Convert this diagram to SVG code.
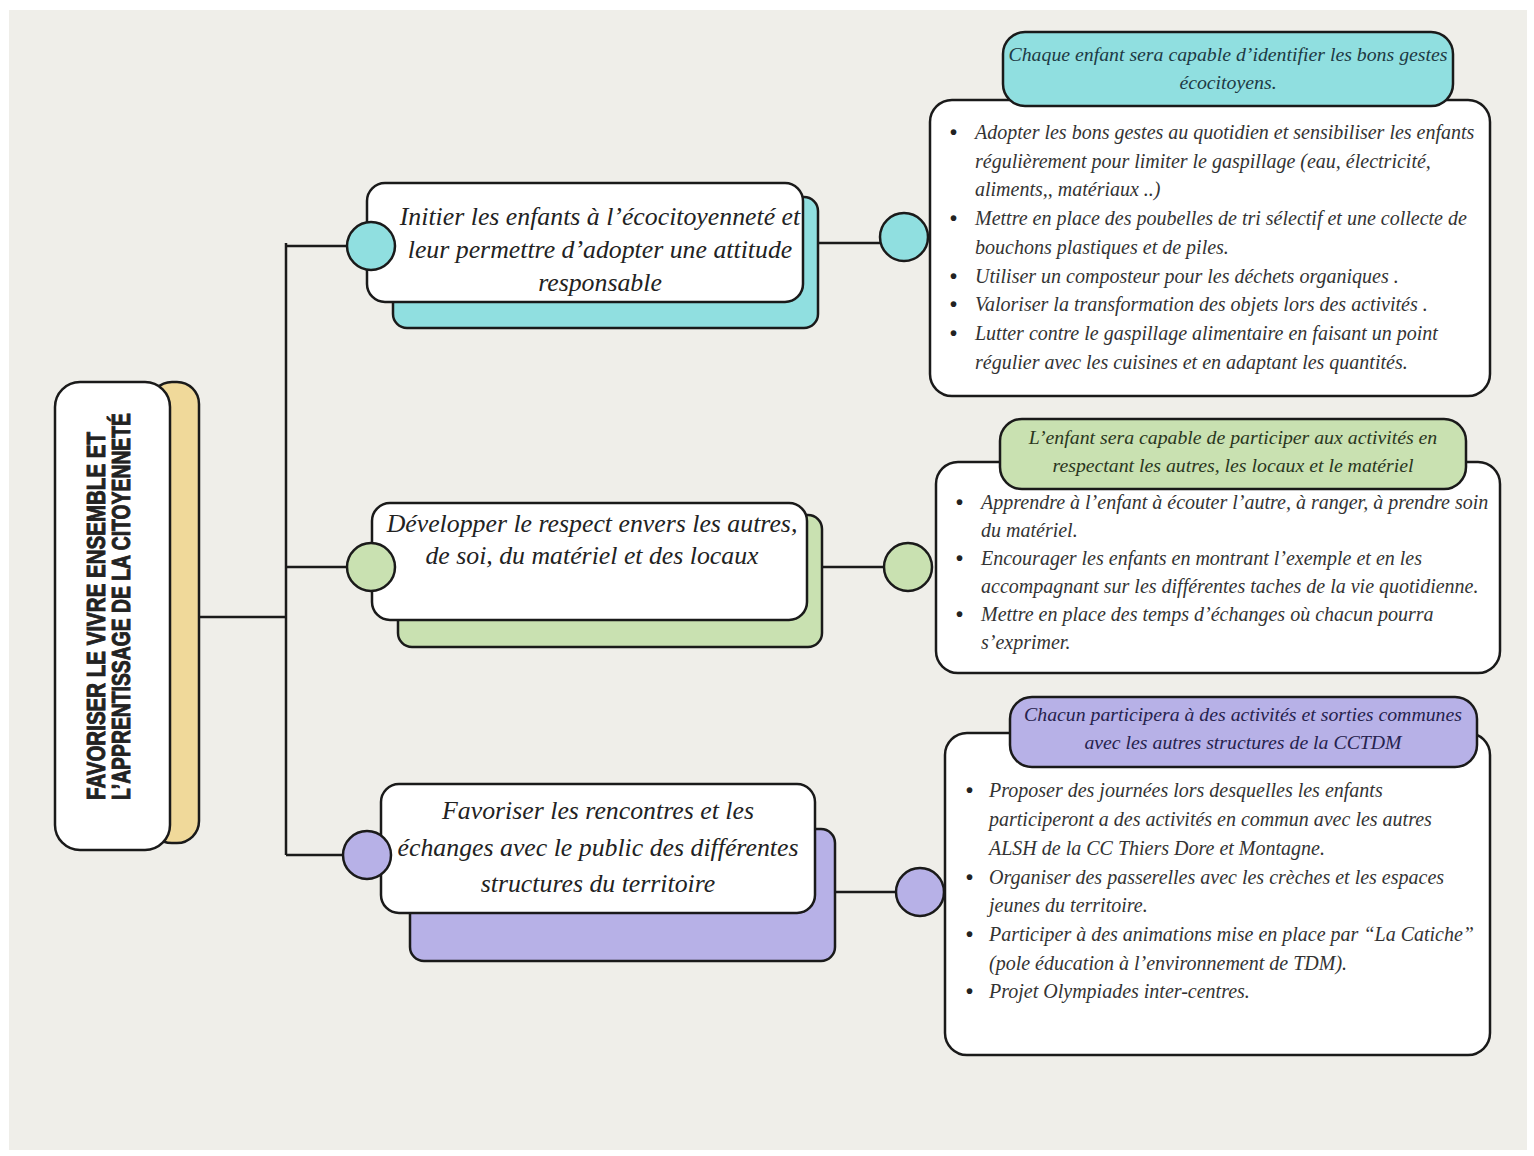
<svg xmlns="http://www.w3.org/2000/svg" width="1534" height="1156" viewBox="0 0 1534 1156">
<style>
.bg{fill:#efeee9}
.box{fill:#ffffff;stroke:#1a1a1a;stroke-width:2.5}
.sh{stroke:#1a1a1a;stroke-width:2.5}
.teal{fill:#90dfe0}
.green{fill:#c9e1b1}
.purple{fill:#b7b1e7}
.yellow{fill:#f0d99a}
.wire{fill:none;stroke:#1a1a1a;stroke-width:2.5}
.mid{font-family:"Liberation Serif",serif;font-style:italic;font-size:25.8px;fill:#222;text-anchor:middle}
.hd{font-family:"Liberation Serif",serif;font-style:italic;font-size:19.8px;text-anchor:middle}
.bl{font-family:"Liberation Serif",serif;font-style:italic;font-size:20px;fill:#333}
.dot{font-family:"Liberation Sans",Arial,sans-serif;font-weight:bold;font-size:20px;fill:#222}
.title{font-family:"Liberation Sans",Arial,sans-serif;font-weight:bold;font-size:25px;fill:#222;stroke:#222;stroke-width:0.9}
</style>
<rect x="0" y="0" width="1534" height="1156" fill="#ffffff"/>
<rect class="bg" x="9" y="10" width="1518" height="1140"/>

<g id="connectors">
<path class="wire" d="M199 617 H286 M286 243 V855 M286 246 H350 M286 567 H350 M286 855 H346 M818 243 H882 M822 567 H885 M835 892 H898"/>
</g>

<g id="main">
<rect class="yellow sh" x="150" y="382" width="49" height="461" rx="22"/>
<rect class="box" x="55" y="382" width="115" height="468" rx="25"/>
<text class="title" transform="translate(105,800) rotate(-90)" textLength="368" lengthAdjust="spacingAndGlyphs">FAVORISER LE VIVRE ENSEMBLE ET</text>
<text class="title" transform="translate(130,800) rotate(-90)" textLength="387" lengthAdjust="spacingAndGlyphs">L’APPRENTISSAGE DE LA CITOYENNETÉ</text>
</g>

<g id="obj1">
<rect class="teal sh" x="393" y="197" width="425" height="131" rx="14"/>
<rect class="box" x="367" y="183" width="436" height="119" rx="18"/>
<circle class="teal sh" cx="371" cy="246" r="24"/>
<text class="mid" x="600" y="225">Initier les enfants à l’écocitoyenneté et</text>
<text class="mid" x="600" y="258">leur permettre d’adopter une attitude</text>
<text class="mid" x="600" y="291">responsable</text>
</g>

<g id="obj2">
<rect class="green sh" x="398" y="515" width="424" height="132" rx="14"/>
<rect class="box" x="372" y="503" width="435" height="117" rx="18"/>
<circle class="green sh" cx="371" cy="567" r="24"/>
<text class="mid" x="592" y="532">Développer le respect envers les autres,</text>
<text class="mid" x="592" y="564">de soi, du matériel et des locaux</text>
</g>

<g id="obj3">
<rect class="purple sh" x="410" y="829" width="425" height="132" rx="14"/>
<rect class="box" x="381" y="784" width="434" height="129" rx="18"/>
<circle class="purple sh" cx="367" cy="855" r="24"/>
<text class="mid" x="598" y="819">Favoriser les rencontres et les</text>
<text class="mid" x="598" y="856">échanges avec le  public des différentes</text>
<text class="mid" x="598" y="892">structures du territoire</text>
</g>

<g id="dot1"><circle class="teal sh" cx="904" cy="237" r="24"/></g>
<g id="dot2"><circle class="green sh" cx="908" cy="567" r="24"/></g>
<g id="dot3"><circle class="purple sh" cx="920" cy="892" r="24"/></g>

<g id="detail1">
<rect class="box" x="930" y="100" width="560" height="296" rx="22"/>
<rect class="teal sh" x="1003" y="32" width="450" height="74" rx="22"/>
<text class="hd" x="1228" y="61" fill="#1d3a44">Chaque enfant sera capable d’identifier les bons gestes</text>
<text class="hd" x="1228" y="89" fill="#1d3a44">écocitoyens.</text>
<g class="dot">
<text x="950" y="139">•</text><text x="950" y="225">•</text><text x="950" y="283">•</text><text x="950" y="311">•</text><text x="950" y="340">•</text>
</g>
<g class="bl">
<text x="975" y="139">Adopter les bons gestes au quotidien  et sensibiliser les enfants</text>
<text x="975" y="168">régulièrement pour limiter le gaspillage (eau, électricité,</text>
<text x="975" y="196">aliments,, matériaux ..)</text>
<text x="975" y="225">Mettre en place des poubelles de tri sélectif et une collecte de</text>
<text x="975" y="254">bouchons plastiques et de piles.</text>
<text x="975" y="283">Utiliser un composteur pour les déchets organiques .</text>
<text x="975" y="311">Valoriser la transformation des objets lors des activités .</text>
<text x="975" y="340">Lutter contre le gaspillage alimentaire en faisant un point</text>
<text x="975" y="369">régulier avec les cuisines et en adaptant les quantités.</text>
</g>
</g>

<g id="detail2">
<rect class="box" x="936" y="462" width="564" height="211" rx="22"/>
<rect class="green sh" x="1000" y="419" width="466" height="70" rx="22"/>
<text class="hd" x="1233" y="444" fill="#2a3620">L’enfant sera capable de participer aux activités en</text>
<text class="hd" x="1233" y="472" fill="#2a3620">respectant les autres, les locaux et le matériel</text>
<g class="dot">
<text x="956" y="509">•</text><text x="956" y="565">•</text><text x="956" y="621">•</text>
</g>
<g class="bl">
<text x="981" y="509">Apprendre à l’enfant à écouter l’autre, à ranger, à prendre soin</text>
<text x="981" y="537">du matériel.</text>
<text x="981" y="565">Encourager les enfants en montrant l’exemple et en les</text>
<text x="981" y="593">accompagnant sur les différentes taches de la vie quotidienne.</text>
<text x="981" y="621">Mettre en place des temps d’échanges où chacun pourra</text>
<text x="981" y="649">s’exprimer.</text>
</g>
</g>

<g id="detail3">
<rect class="box" x="945" y="733" width="545" height="322" rx="22"/>
<rect class="purple sh" x="1010" y="697" width="467" height="70" rx="22"/>
<text class="hd" x="1243" y="721" fill="#26224d">Chacun participera à des activités et sorties communes</text>
<text class="hd" x="1243" y="749" fill="#26224d">avec les autres  structures de la CCTDM</text>
<g class="dot">
<text x="966" y="797">•</text><text x="966" y="884">•</text><text x="966" y="941">•</text><text x="966" y="998">•</text>
</g>
<g class="bl">
<text x="989" y="797">Proposer des journées lors desquelles les enfants</text>
<text x="989" y="826">participeront  a des activités en commun avec les autres</text>
<text x="989" y="855">ALSH de la CC Thiers Dore et Montagne.</text>
<text x="989" y="884">Organiser des passerelles avec les crèches et les espaces</text>
<text x="989" y="912">jeunes du territoire.</text>
<text x="989" y="941">Participer à des animations mise en place par “La Catiche”</text>
<text x="989" y="970">(pole éducation à l’environnement de TDM).</text>
<text x="989" y="998">Projet Olympiades inter-centres.</text>
</g>
</g>
</svg>
